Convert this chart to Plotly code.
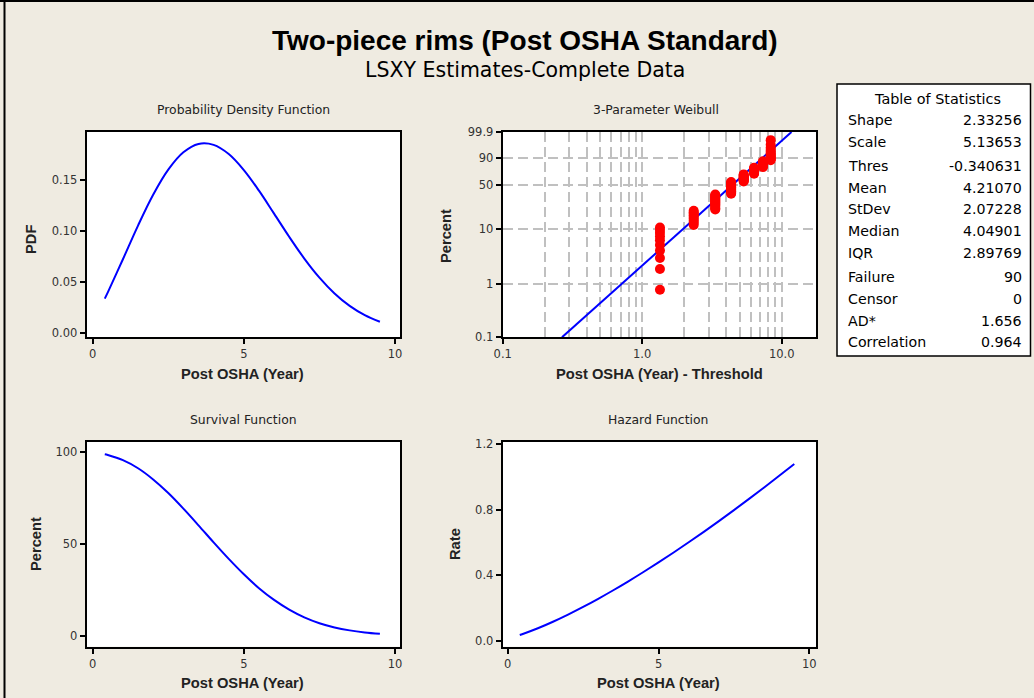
import math
import plotly.graph_objects as go

# ---------------- data ----------------
t_grid = [0.4, 0.5, 1.0, 1.5, 2.0, 2.5, 3.0, 3.5, 4.0, 4.5, 5.0,
          5.5, 6.0, 6.5, 7.0, 7.5, 8.0, 8.5, 9.0, 9.5]
pdf_vals = [0.0340, 0.0401, 0.0726, 0.1056, 0.1358, 0.1604, 0.1774, 0.1856,
            0.1847, 0.1757, 0.1600, 0.1398, 0.1173, 0.0946, 0.0733, 0.0546,
            0.0391, 0.0269, 0.0178, 0.0113]
surv_vals = [98.9, 98.5, 95.7, 91.3, 85.2, 77.8, 69.3, 60.2, 50.9, 41.9,
             33.5, 25.9, 19.5, 14.2, 10.0, 6.8, 4.5, 2.9, 1.8, 1.05]
haz_vals = [0.0344, 0.0407, 0.0758, 0.1157, 0.1593, 0.2062, 0.2560, 0.3082,
            0.3628, 0.4196, 0.4783, 0.5389, 0.6012, 0.6652, 0.7308, 0.7978,
            0.8664, 0.9363, 1.0075, 1.0800]

fail_years = [1, 2, 3, 4, 5, 6, 7, 8]
fail_counts = [10, 9, 15, 16, 11, 9, 8, 12]
threshold = -0.340631

fit_line_x = [0.266, 11.76]      # (year - threshold)
fit_line_pct = [0.1, 99.9]

pct_ticks = [0.1, 1, 10, 50, 90, 99.9]
pct_ticktext = ["0.1", "1", "10", "50", "90", "99.9"]
log_minor = [0.2, 0.3, 0.4, 0.5, 0.6, 0.7, 0.8, 0.9, 2, 3, 4, 5, 6, 7, 8, 9]

stat_names = ["Shape", "Scale", "Thres", "Mean", "StDev", "Median", "IQR",
              "Failure", "Censor", "AD*", "Correlation"]
stat_values = ["2.33256", "5.13653", "-0.340631", "4.21070", "2.07228",
               "4.04901", "2.89769", "90", "0", "1.656", "0.964"]

# ---------------- helpers ----------------
W, H = 1034, 698
def px(x): return x / W
def py(y): return 1 - y / H
def wtr(p):  # Weibull probability-paper transform
    return math.log(-math.log(1 - p / 100.0))

BG = "#EFEBE1"
FONT = "DejaVu Sans"
BFONT = "Liberation Sans"
BLUE = "#0000FF"
RED = "#FF0000"
GRID = "#C0C0C0"

# plotting positions (median ranks) of the 90 failures
n_tot = sum(fail_counts)
pts_x, pts_y = [], []
rank = 0
for yr, c in zip(fail_years, fail_counts):
    for _ in range(c):
        rank += 1
        p = (rank - 0.3) / (n_tot + 0.4) * 100
        pts_x.append(yr - threshold)
        pts_y.append(wtr(p))

fig = go.Figure()
fig.add_trace(go.Scatter(x=t_grid, y=pdf_vals, mode="lines", line=dict(color=BLUE, width=2, shape="spline"),
                         xaxis="x", yaxis="y", showlegend=False, hoverinfo="skip"))
fig.add_trace(go.Scatter(x=fit_line_x, y=[wtr(p) for p in fit_line_pct], mode="lines",
                         line=dict(color=BLUE, width=2), xaxis="x2", yaxis="y2", showlegend=False,
                         hoverinfo="skip"))
fig.add_trace(go.Scatter(x=pts_x, y=pts_y, mode="markers", marker=dict(color=RED, size=10, line=dict(width=0)),
                         xaxis="x2", yaxis="y2", showlegend=False, hoverinfo="skip"))
fig.add_trace(go.Scatter(x=t_grid, y=surv_vals, mode="lines", line=dict(color=BLUE, width=2, shape="spline"),
                         xaxis="x3", yaxis="y3", showlegend=False, hoverinfo="skip"))
fig.add_trace(go.Scatter(x=t_grid, y=haz_vals, mode="lines", line=dict(color=BLUE, width=2, shape="spline"),
                         xaxis="x4", yaxis="y4", showlegend=False, hoverinfo="skip"))

xd_left = [px(86.7), px(400)]
xd_right = [px(502.7), px(816)]
yd_top = [py(337.3), py(132)]
yd_bot = [py(646.7), py(441.5)]

def ax(**kw):
    base = dict(showline=True, linecolor="black", linewidth=2, mirror=True,
                ticks="outside", ticklen=5, tickwidth=1.5, tickcolor="black",
                showgrid=False, zeroline=False, automargin=False,
                tickfont=dict(family=FONT, size=11.5, color="#333333"))
    base.update(kw)
    return base

fig.update_layout(
    width=W, height=H, margin=dict(l=0, r=0, t=0, b=0, pad=0, autoexpand=False),
    paper_bgcolor=BG, plot_bgcolor="white", hovermode=False,
    xaxis=ax(domain=xd_left, anchor="y", range=[-0.198, 10.165], tickvals=[0, 5, 10]),
    yaxis=ax(domain=yd_top, anchor="x", range=[-0.0039, 0.1973], tickvals=[0, 0.05, 0.10, 0.15],
             tickformat=".2f"),
    xaxis2=ax(domain=xd_right, anchor="y2", type="log", range=[-1, 1.246],
              tickvals=[0.1, 1, 10], ticktext=["0.1", "1.0", "10.0"],
              showgrid=True, gridcolor=GRID, griddash="10px,5px", gridwidth=1.5,
              minor=dict(tickmode="array", tickvals=log_minor, showgrid=True, gridcolor=GRID,
                         griddash="10px,5px", gridwidth=1.5, ticks="")),
    yaxis2=ax(domain=yd_top, anchor="x2", range=[wtr(0.1), wtr(99.9)],
              tickvals=[wtr(p) for p in pct_ticks], ticktext=pct_ticktext,
              showgrid=True, gridcolor=GRID, griddash="10px,5px", gridwidth=1.5),
    xaxis3=ax(domain=xd_left, anchor="y3", range=[-0.198, 10.165], tickvals=[0, 5, 10]),
    yaxis3=ax(domain=yd_bot, anchor="x3", range=[-6.0, 105.9], tickvals=[0, 50, 100]),
    xaxis4=ax(domain=xd_right, anchor="y4", range=[-0.166, 10.22], tickvals=[0, 5, 10]),
    yaxis4=ax(domain=yd_bot, anchor="x4", range=[-0.0367, 1.217], tickvals=[0, 0.4, 0.8, 1.2],
              tickformat=".1f"),
)

ann = []
def text(x, y, s, size=13, bold=False, xanchor="center", angle=0, color="#222222", family=None):
    if bold:
        s = "<b>" + s + "</b>"
    fam = family or (BFONT if bold else FONT)
    ann.append(dict(x=px(x), y=py(y), xref="paper", yref="paper", text=s, showarrow=False,
                    xanchor=xanchor, yanchor="middle", textangle=angle,
                    font=dict(family=fam, size=size, color=color)))

text(525, 40, "Two-piece rims (Post OSHA Standard)", size=28, bold=True, color="black")
text(525, 70, "LSXY Estimates-Complete Data", size=20.5, color="black")
text(243, 109, "Probability Density Function", size=12.4)
text(656, 109, "3-Parameter Weibull", size=12.4)
text(243, 419, "Survival Function", size=12.4)
text(658, 419, "Hazard Function", size=12.4)
text(242, 374, "Post OSHA (Year)", size=14.7, bold=True)
text(659, 374, "Post OSHA (Year) - Threshold", size=14.7, bold=True)
text(242, 683, "Post OSHA (Year)", size=14.7, bold=True)
text(658, 683, "Post OSHA (Year)", size=14.7, bold=True)
text(31, 240, "PDF", size=14.7, bold=True, angle=-90)
text(446, 236, "Percent", size=14.7, bold=True, angle=-90)
text(36, 544, "Percent", size=14.7, bold=True, angle=-90)
text(455, 544, "Rate", size=14.7, bold=True, angle=-90)

# table of statistics
text(937, 99, "Table of Statistics", size=14.4, color="black")
row_y = [120, 142, 166, 188, 209, 231, 253, 277, 299, 321, 342]
for name, val, yy in zip(stat_names, stat_values, row_y):
    text(846, yy, name, size=14.2, xanchor="left", color="black")
    text(1024, yy, val, size=14.2, xanchor="right", color="black")

fig.update_layout(annotations=ann)

fig.update_layout(shapes=[
    dict(type="rect", xref="paper", yref="paper", x0=px(837), x1=px(1030.5), y0=py(356), y1=py(84),
         fillcolor="white", line=dict(color="black", width=1.5), layer="below"),
    dict(type="line", xref="paper", yref="paper", x0=px(4.5), x1=px(4.5), y0=0, y1=1,
         line=dict(color="black", width=2)),
    dict(type="line", xref="paper", yref="paper", x0=0, x1=1, y0=py(1), y1=py(1),
         line=dict(color="black", width=2)),
])

fig.write_html("out.html", config={"displayModeBar": False},
               post_script="document.body.style.margin='0px';document.body.style.padding='0px';"
                           "document.body.style.overflow='hidden';"
                           "document.body.style.background='" + BG + "';"
                           "document.documentElement.style.background='" + BG + "';")
